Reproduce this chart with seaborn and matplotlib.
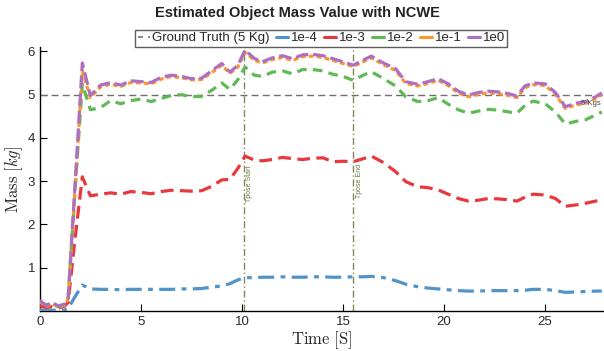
import numpy as np
import pandas as pd
import matplotlib
matplotlib.use("Agg")
import matplotlib.pyplot as plt
import seaborn as sns
from matplotlib.lines import Line2D

sns.set_style("ticks")
plt.rcParams['font.family'] = ['Liberation Sans', 'DejaVu Sans']
plt.rcParams['mathtext.fontset'] = 'cm'

time_s = [0, 0.3, 0.6, 0.9, 1.2, 1.4, 1.7, 2.1, 2.5, 3.0, 3.5, 4.0, 4.5, 5.0, 5.5, 6.0,
          6.5, 7.0, 7.5, 8.0, 8.5, 9.0, 9.4, 9.8, 10.15, 10.6, 11.0, 11.5, 12.0, 12.5,
          13.0, 13.5, 14.0, 14.5, 15.0, 15.5, 16.0, 16.4, 17.0, 17.6, 18.1, 18.7, 19.2,
          19.7, 20.2, 20.7, 21.2, 21.7, 22.2, 22.7, 23.2, 23.6, 24.0, 24.4, 25.0, 25.5,
          26.0, 26.5, 27.0, 27.5, 27.8]

mass_1e0 = [0.25, 0.12, 0.20, 0.12, 0.15, 0.30, 2.60, 5.73, 4.98, 5.22, 5.28, 5.22, 5.32, 5.30, 5.28, 5.40,
            5.45, 5.42, 5.37, 5.38, 5.55, 5.72, 5.52, 5.68, 6.03, 5.84, 5.76, 5.85, 5.90, 5.83,
            5.92, 5.93, 5.90, 5.83, 5.76, 5.68, 5.80, 5.89, 5.73, 5.60, 5.30, 5.24, 5.30,
            5.37, 5.25, 5.08, 4.99, 5.05, 5.08, 5.06, 5.02, 4.97, 5.20, 5.27, 5.25, 5.05,
            4.72, 4.80, 4.84, 4.95, 5.04]

mass_1e_1 = [0.22, 0.10, 0.17, 0.10, 0.13, 0.28, 2.50, 5.55, 4.93, 5.18, 5.24, 5.19, 5.28, 5.27, 5.25, 5.36,
             5.42, 5.39, 5.34, 5.35, 5.51, 5.68, 5.49, 5.64, 5.98, 5.80, 5.73, 5.81, 5.86, 5.79,
             5.88, 5.89, 5.86, 5.79, 5.72, 5.65, 5.76, 5.85, 5.69, 5.56, 5.26, 5.20, 5.26,
             5.33, 5.21, 5.04, 4.95, 5.01, 5.04, 5.02, 4.98, 4.93, 5.16, 5.23, 5.21, 5.01,
             4.68, 4.76, 4.80, 4.91, 5.00]

mass_1e_2 = [0.20, 0.15, 0.15, 0.10, 0.12, 0.30, 2.50, 5.25, 4.65, 4.70, 4.86, 4.79, 4.86, 4.90, 4.84, 4.91,
             4.98, 5.00, 4.95, 4.96, 5.10, 5.27, 5.12, 5.35, 5.64, 5.45, 5.42, 5.52, 5.55, 5.48,
             5.58, 5.58, 5.55, 5.47, 5.42, 5.33, 5.45, 5.53, 5.37, 5.20, 4.95, 4.84, 4.86,
             4.93, 4.78, 4.65, 4.57, 4.62, 4.66, 4.64, 4.60, 4.57, 4.75, 4.85, 4.79, 4.60,
             4.32, 4.38, 4.42, 4.53, 4.60]

mass_1e_3 = [0.12, 0.08, 0.10, 0.07, 0.10, 0.20, 1.50, 3.10, 2.66, 2.70, 2.73, 2.70, 2.76, 2.74, 2.71, 2.76,
             2.79, 2.78, 2.77, 2.78, 2.88, 3.03, 3.04, 3.30, 3.58, 3.49, 3.47, 3.50, 3.55, 3.52,
             3.50, 3.53, 3.54, 3.45, 3.46, 3.45, 3.52, 3.58, 3.43, 3.22, 2.99, 2.87, 2.85,
             2.80, 2.70, 2.60, 2.54, 2.56, 2.60, 2.59, 2.57, 2.54, 2.63, 2.70, 2.68, 2.60,
             2.42, 2.45, 2.49, 2.54, 2.56]

mass_1e_4 = [0.03, 0.01, 0.02, 0.01, 0.02, 0.05, 0.30, 0.60, 0.51, 0.50, 0.50, 0.49, 0.50, 0.50, 0.50, 0.50,
             0.50, 0.51, 0.51, 0.52, 0.55, 0.58, 0.63, 0.72, 0.77, 0.77, 0.78, 0.78, 0.79, 0.78,
             0.78, 0.79, 0.79, 0.78, 0.78, 0.79, 0.79, 0.80, 0.77, 0.70, 0.62, 0.56, 0.53,
             0.51, 0.49, 0.47, 0.46, 0.46, 0.47, 0.47, 0.47, 0.47, 0.48, 0.50, 0.50, 0.47,
             0.43, 0.44, 0.45, 0.46, 0.46]

series_labels = ['1e-4', '1e-3', '1e-2', '1e-1', '1e0']
ground_truth = 5.0
tpose_start = 10.1
tpose_end = 15.5

colors = ['#4f93c8', '#e8383d', '#5fba55', '#ff962a', '#ad6fc2']
styles = [(0, (5, 2, 1.5, 2)), (0, (4, 2)), (0, (3, 2)), (0, (1.5, 1)), (0, (4, 1.5))]
series = [mass_1e_4, mass_1e_3, mass_1e_2, mass_1e_1, mass_1e0]

fig = plt.figure(figsize=(6.04, 3.51), dpi=100)
ax = fig.add_axes([0.066, 0.114, 0.932, 0.752])

ax.axhline(ground_truth, color='#6e6e6e', ls=(0, (5, 3)), lw=1.0, zorder=1)
for x in (tpose_start, tpose_end):
    ax.axvline(x, color='#7b8c55', ls=(0, (5, 2, 1, 2)), lw=1.0, zorder=1)

for vals, c, s, lab in zip(series, colors, styles, series_labels):
    sns.lineplot(x=time_s, y=vals, ax=ax, color=c, lw=2.3, linestyle=s, sort=False,
                 estimator=None, label=lab, zorder=3)

ax.text(tpose_start + 0.12, 2.95, 'Tpose Start', rotation=90, fontsize=5, color='#6b7a4a',
        ha='left', va='center')
ax.text(tpose_end + 0.12, 3.0, 'Tpose End', rotation=90, fontsize=5, color='#6b7a4a',
        ha='left', va='center')
ax.text(26.75, 4.8, '5 Kgs', fontsize=5.5, color='#444444', ha='left', va='center', zorder=5)

ax.set_xlim(0, 27.85)
ax.set_ylim(0, 6.1)
ax.set_xticks([0, 5, 10, 15, 20, 25])
ax.set_yticks([1, 2, 3, 4, 5, 6])
ax.tick_params(direction='in', length=5, width=0.8, labelsize=9.5, colors='black',
               labelcolor='#2a2a2a')
sns.despine(ax=ax, top=True, right=True)
for sp in ('left', 'bottom'):
    ax.spines[sp].set_linewidth(1.0)
    ax.spines[sp].set_color('black')

ax.set_xlabel(r'$\mathrm{Time\ [S]}$', fontsize=12, labelpad=1)
ax.set_ylabel(r'$\mathrm{Mass}\ [kg]$', fontsize=12, labelpad=2)

handles = [Line2D([], [], color='#6e6e6e', ls=(0, (3, 3)), lw=1.2)]
handles += [Line2D([], [], color=c, lw=2.2) for c in colors]
ax.legend(handles, ['Ground Truth (5 Kg)'] + series_labels, loc='lower center',
          bbox_to_anchor=(0.5, 1.0), ncol=6, frameon=True, fancybox=False,
          edgecolor='#333333', fontsize=9.5, handlelength=0.9, handletextpad=0.2,
          columnspacing=0.5, borderpad=0.2, borderaxespad=0.0)
leg = ax.get_legend()
leg.get_frame().set_linewidth(1.0)

fig.text(0.492, 0.962, 'Estimated Object Mass Value with NCWE', ha='center', va='center',
         fontsize=10.5, fontweight='bold', color='#222222')

fig.savefig('out.png', dpi=100)
